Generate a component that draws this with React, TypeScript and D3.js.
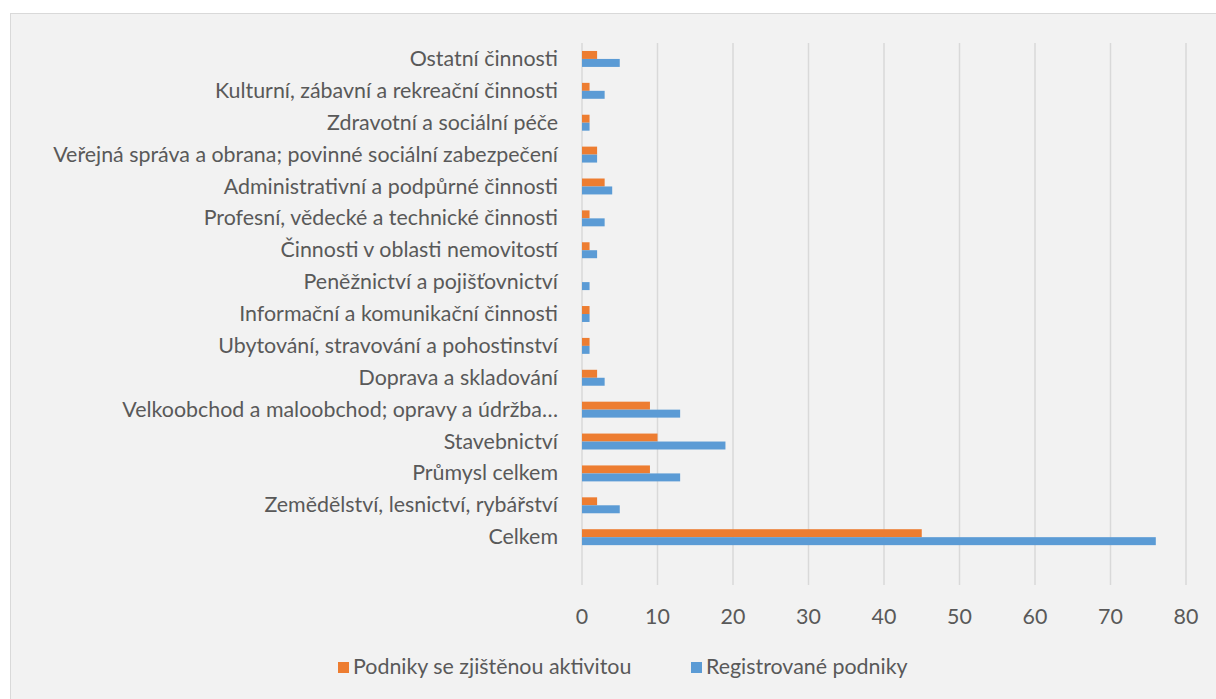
import React from 'react';
import * as d3 from 'd3';

const categories = [
  'Ostatní činnosti',
  'Kulturní, zábavní a rekreační činnosti',
  'Zdravotní a sociální péče',
  'Veřejná správa a obrana; povinné sociální zabezpečení',
  'Administrativní a podpůrné činnosti',
  'Profesní, vědecké a technické činnosti',
  'Činnosti v oblasti nemovitostí',
  'Peněžnictví a pojišťovnictví',
  'Informační a komunikační činnosti',
  'Ubytování, stravování a pohostinství',
  'Doprava a skladování',
  'Velkoobchod a maloobchod; opravy a údržba…',
  'Stavebnictví',
  'Průmysl celkem',
  'Zemědělství, lesnictví, rybářství',
  'Celkem',
];
const activeValues = [2, 1, 1, 2, 3, 1, 1, 0, 1, 1, 2, 9, 10, 9, 2, 45];
const registeredValues = [5, 3, 1, 2, 4, 3, 2, 1, 1, 1, 3, 13, 19, 13, 5, 76];
const xTicks = [0, 10, 20, 30, 40, 50, 60, 70, 80];
const seriesNames = ['Podniky se zjištěnou aktivitou', 'Registrované podniky'];
const seriesColors = ['#ED7D31', '#5B9BD5'];

const W = 1216;
const H = 699;
const plotTop = 43;
const plotBottom = 585;
const font = 'Lato, "Open Sans", sans-serif';
const fs = 21.4;

export default function App() {
  const x = d3.scaleLinear().domain([0, 80]).range([582, 1186]);
  // Excel leaves one empty category slot below the last bar group
  const slot = (plotBottom - plotTop) / (categories.length + 1);
  const y = d3
    .scaleBand<string>()
    .domain(categories)
    .range([plotTop, plotBottom - slot])
    .paddingInner(0.5)
    .paddingOuter(0.25);
  const bh = y.bandwidth() / 2;

  return (
    <svg width={W} height={H} style={{ position: 'absolute', left: 0, top: 0 }}>
      <rect x={0} y={0} width={W} height={H} fill="#fff" />
      <rect x={10.5} y={13.5} width={W} height={H} fill="#f2f2f2" stroke="#d9d9d9" strokeWidth={1} />
      <g>
        {xTicks.map((t) => (
          <line key={t} x1={x(t)} x2={x(t)} y1={plotTop} y2={plotBottom} stroke="#d9d9d9" strokeWidth={1.5} />
        ))}
      </g>
      <g>
        {categories.map((c, i) => (
          <g key={c}>
            <rect x={x(0)} y={y(c)!} width={x(activeValues[i]) - x(0)} height={bh} fill={seriesColors[0]} />
            <rect x={x(0)} y={y(c)! + bh} width={x(registeredValues[i]) - x(0)} height={bh} fill={seriesColors[1]} />
            <text
              x={558}
              y={y(c)! + bh}
              dy="0.33em"
              textAnchor="end"
              fontFamily={font}
              fontSize={fs}
              fill="#595959"
            >
              {c}
            </text>
          </g>
        ))}
      </g>
      <g>
        {xTicks.map((t) => (
          <text key={t} x={x(t)} y={617} dy="0.33em" textAnchor="middle" fontFamily={font} fontSize={fs} fill="#595959">
            {t}
          </text>
        ))}
      </g>
      <g>
        <rect x={338} y={662} width={11} height={11} fill={seriesColors[0]} />
        <text x={353} y={667} dy="0.33em" fontFamily={font} fontSize={fs} fill="#595959">
          {seriesNames[0]}
        </text>
        <rect x={691} y={662} width={11} height={11} fill={seriesColors[1]} />
        <text x={706} y={667} dy="0.33em" fontFamily={font} fontSize={fs} fill="#595959">
          {seriesNames[1]}
        </text>
      </g>
    </svg>
  );
}
